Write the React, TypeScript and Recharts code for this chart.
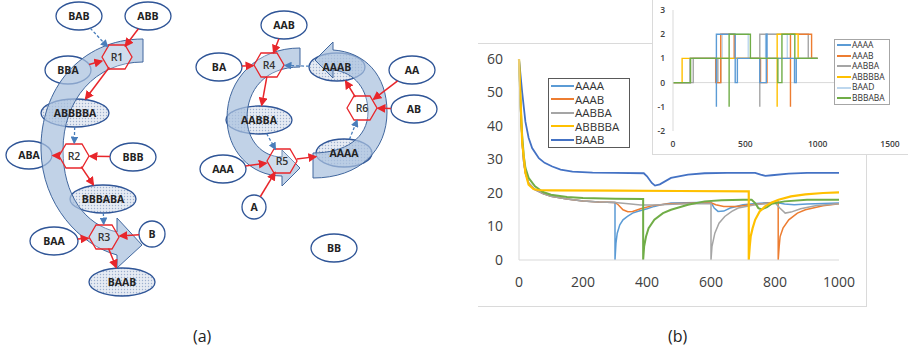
import React from "react";
import {
  LineChart,
  Line,
  XAxis,
  YAxis,
  Legend,
  ReferenceLine,
} from "recharts";

// ---- main chart (b): concentration vs time ----
const mainXTicks = [0, 200, 400, 600, 800, 1000];
const mainYTicks = [0, 10, 20, 30, 40, 50, 60];

const aaaaPts: [number, number][] = [
  [0, 60], [5, 45], [10, 35], [15, 29], [20, 26], [30, 23], [50, 21], [75, 19.8], [100, 19],
  [150, 18.2], [200, 17.6], [250, 17.3], [300, 17.2], [300, 0], [303, 5], [307, 8], [315, 10.5],
  [325, 12], [339, 13], [355, 14], [370, 14.5], [400, 15.3], [423, 16], [450, 16.6], [475, 17],
  [520, 17.1], [600, 17.2], [610, 15.5], [622, 14.5], [640, 14.6], [660, 15.5], [700, 16.5],
  [740, 16.9], [800, 17.2], [830, 16.7], [860, 16.5], [900, 16.7], [1000, 17],
];
const aaabPts: [number, number][] = [
  [0, 60], [5, 45], [10, 35], [15, 29], [20, 26], [30, 23], [50, 21], [75, 19.8], [100, 19],
  [150, 18.2], [200, 17.6], [250, 17.3], [300, 17.2], [310, 16.5], [325, 15], [340, 14.4],
  [355, 14.5], [380, 15.3], [420, 16.3], [470, 16.8], [600, 17.1], [615, 16.5], [640, 16],
  [680, 16], [720, 16.4], [760, 16.8], [800, 17.2], [810, 17.3], [810, 0], [813, 4], [816, 7],
  [825, 9.5], [843, 12], [870, 14], [895, 15], [950, 16.2], [1000, 16.8],
];
const aabbaPts: [number, number][] = [
  [0, 60], [5, 45], [10, 35], [15, 29], [20, 26], [30, 23], [50, 21], [75, 19.8], [100, 19],
  [150, 18.2], [200, 17.6], [250, 17.3], [300, 17.2], [350, 16.7], [380, 16.4], [420, 16.4],
  [500, 16.7], [600, 16.9], [600, 0], [603, 4], [612, 8], [625, 11], [643, 13], [665, 14.5],
  [685, 15.5], [738, 16.5], [790, 17], [800, 17.1], [815, 15.5], [832, 14], [850, 14.3],
  [880, 15.3], [930, 16.3], [1000, 16.8],
];
const abbbbaPts: [number, number][] = [
  [0, 60], [10, 35], [20, 26], [30, 22.5], [45, 21.2], [60, 20.9], [100, 20.8], [300, 20.7],
  [500, 20.6], [718, 20.5], [718, 0], [721, 4], [724, 7], [730, 9.5], [738, 12], [752, 14.5],
  [769, 16], [790, 17.2], [811, 18], [850, 19], [895, 19.6], [950, 20], [1000, 20.2],
];
const baabPts: [number, number][] = [
  [0, 60], [10, 50], [20, 41.3], [30, 36.5], [41, 33.4], [62, 30.4], [80, 29], [104, 27.9],
  [130, 27], [167, 26.4], [230, 26.1], [300, 26], [390, 25.9], [400, 25], [415, 23], [425, 22.2],
  [440, 22.6], [475, 24.5], [528, 25.5], [580, 25.9], [650, 26], [738, 26], [755, 25.5],
  [770, 25.1], [790, 25.3], [843, 25.8], [900, 26], [1000, 26],
];
const bbbabaPts: [number, number][] = [
  [0, 60], [5, 46], [10, 37], [15, 31], [20, 27.5], [30, 24.5], [50, 22], [75, 20.3], [100, 19.5],
  [150, 18.8], [200, 18.5], [300, 18.3], [388, 18.2], [388, 0], [391, 4], [397, 7], [405, 9.5],
  [423, 12], [450, 14], [475, 15], [528, 16.5], [580, 17.5], [633, 17.8], [700, 18], [727, 18],
  [738, 17], [748, 15.5], [758, 15.1], [775, 15.8], [790, 16.8], [830, 17.5], [900, 18], [1000, 18],
];

// ---- inset: step traces ----
const insetXTicks = [0, 500, 1000, 1500];
const insetYTicks = [-2, -1, 0, 1, 2, 3];

const inAaaa: [number, number][] = [
  [0, 0], [120, 0], [120, 1], [300, 1], [300, -1], [300, 2], [430, 2], [430, 0], [445, 0],
  [445, 1], [600, 1], [600, 0], [645, 0], [645, 2], [650, 2], [650, 1], [840, 1], [840, 0],
  [852, 0], [852, 1], [1000, 1],
];
const inAaab: [number, number][] = [
  [0, 0], [120, 0], [120, 1], [295, 1], [295, 0], [330, 0], [330, 2], [423, 2], [423, 1],
  [605, 1], [605, 0], [650, 0], [650, 1], [812, 1], [812, -1], [812, 2], [958, 2], [958, 1], [1000, 1],
];
const inAabba: [number, number][] = [
  [0, 0], [140, 0], [140, 1], [310, 1], [310, 0], [330, 0], [330, 1], [600, 1], [600, -1],
  [600, 2], [935, 2], [935, 1], [1000, 1],
];
const inAbbbba: [number, number][] = [
  [0, 0], [63, 0], [63, 1], [720, 1], [720, -1], [720, 2], [865, 2], [865, 1], [1000, 1],
];
const inBaad: [number, number][] = [
  [0, 0], [120, 0], [120, 1], [340, 1], [340, 2], [520, 2], [520, 1], [640, 1], [640, 2],
  [790, 2], [790, 1], [1000, 1],
];
const inBbbaba: [number, number][] = [
  [0, 0], [121, 0], [121, 1], [388, 1], [388, -1], [388, 2], [535, 2], [535, 1], [725, 1],
  [725, 0], [753, 0], [753, 2], [842, 2], [842, 1], [1000, 1],
];

// ---- diagram (a) ----
const speciesNames = [
  "BAB", "ABB", "BBA", "ABBBBA", "ABA", "BBB", "BBBABA", "BAA", "B", "BAAB",
  "AAB", "BA", "AAAB", "AA", "AB", "AABBA", "AAAA", "AAA", "A", "BB",
];
const dottedSpecies = ["ABBBBA", "BBBABA", "BAAB", "AAAB", "AABBA", "AAAA"];
const reactionNames = ["R1", "R2", "R3", "R4", "R5", "R6"];
const reactEdges: [string, string][] = [
  ["ABB", "R1"], ["BBA", "R1"], ["R1", "ABBBBA"], ["BBB", "R2"], ["R2", "ABA"], ["R2", "BBBABA"],
  ["BAA", "R3"], ["B", "R3"], ["R3", "BAAB"], ["AAB", "R4"], ["BA", "R4"], ["R4", "AABBA"],
  ["AAA", "R5"], ["A", "R5"], ["R5", "AAAA"], ["AA", "R6"], ["AB", "R6"], ["R6", "AAAB"],
];
const catalystEdges: [string, string][] = [
  ["BAB", "R1"], ["ABBBBA", "R2"], ["BBBABA", "R3"], ["AABBA", "R5"], ["AAAB", "R4"], ["AAAA", "R6"],
];

// layout of the diagram: [cx, cy, rx, ry]
const nodeLayout: Record<string, [number, number, number, number]> = {
  BAB: [79, 16, 23, 14], ABB: [148, 16, 23, 14], BBA: [68, 70, 23, 14],
  ABBBBA: [75, 113, 34, 14], ABA: [29, 155, 23, 14], BBB: [133, 157, 23, 14],
  BBBABA: [103, 199, 33, 14], BAA: [54, 241, 24, 14], B: [152, 234, 13, 13],
  BAAB: [122, 282, 33, 14], AAB: [284, 25, 23, 14], BA: [219, 67, 23, 14],
  AAAB: [337, 67, 28, 14], AA: [412, 70, 23, 14], AB: [414, 109, 23, 14],
  AABBA: [259, 120, 33, 14], AAAA: [344, 153, 28, 14], AAA: [223, 169, 23, 14],
  A: [254, 207, 12, 12], BB: [334, 248, 23, 14],
  R1: [117, 57, 15, 12], R2: [74, 156, 15, 12], R3: [104, 237, 15, 12],
  R4: [269, 65, 15, 12], R5: [282, 161, 15, 12], R6: [362, 108, 15, 12],
};

const COLORS: Record<string, string> = {
  AAAA: "#5B9BD5",
  AAAB: "#ED7D31",
  AABBA: "#A5A5A5",
  ABBBBA: "#FFC000",
  BAAB: "#4472C4",
  BAAD: "#BDD7EE",
  BBBABA: "#70AD47",
};

const toRows = (pts: [number, number][]) => pts.map(([x, y]) => ({ x, y }));

function trimmed(a: string, b: string, gapA: number, gapB: number) {
  const [x1, y1, rx1, ry1] = nodeLayout[a];
  const [x2, y2, rx2, ry2] = nodeLayout[b];
  const dx = x2 - x1;
  const dy = y2 - y1;
  const t1 = 1 / Math.sqrt((dx / rx1) ** 2 + (dy / ry1) ** 2);
  const t2 = 1 / Math.sqrt((dx / rx2) ** 2 + (dy / ry2) ** 2);
  const len = Math.sqrt(dx * dx + dy * dy);
  return {
    x1: x1 + dx * t1 + (dx / len) * gapA,
    y1: y1 + dy * t1 + (dy / len) * gapA,
    x2: x2 - dx * t2 - (dx / len) * gapB,
    y2: y2 - dy * t2 - (dy / len) * gapB,
  };
}

function hexPoints(cx: number, cy: number) {
  return [
    [cx - 15, cy], [cx - 8, cy - 12], [cx + 8, cy - 12],
    [cx + 15, cy], [cx + 8, cy + 12], [cx - 8, cy + 12],
  ].map((p) => p.join(",")).join(" ");
}

const Diagram = () => {
  const font = "'Open Sans', sans-serif";
  return (
    <svg width={460} height={352} style={{ position: "absolute", left: 0, top: 0 }}>
      <defs>
        <pattern id="dots" width="3" height="3" patternUnits="userSpaceOnUse">
          <rect width="3" height="3" fill="#E6EBF3" />
          <circle cx="1.5" cy="1.5" r="0.7" fill="#9DB0CF" />
        </pattern>
        <marker id="redHead" markerWidth="6" markerHeight="6" refX="5" refY="3" orient="auto">
          <path d="M0,0 L6,3 L0,6 z" fill="#E8262B" />
        </marker>
        <marker id="blueHead" markerWidth="6" markerHeight="6" refX="5" refY="3" orient="auto">
          <path d="M0,0 L6,3 L0,6 z" fill="#4A7EBB" />
        </marker>
      </defs>

      {speciesNames.map((n) => {
        const [cx, cy, rx, ry] = nodeLayout[n];
        return (
          <ellipse key={n} cx={cx} cy={cy} rx={rx} ry={ry}
            fill={dottedSpecies.includes(n) ? "url(#dots)" : "#fff"}
            stroke="#2F5597" strokeWidth={1.3} />
        );
      })}

      {/* big cycle arrows */}
      <g fill="#A9C0DE" fillOpacity={0.72} stroke="#41679E" strokeWidth={1}>
        <path d="M143 39 L143 62 C95 62 63 100 63 150 C63 195 85 225 117 232 L117 218 L142 245 L117 268 L117 255 C80 245 42 205 41 150 C40 90 80 39 143 39 Z" />
        <path d="M300 48 L300 67 C265 67 247 90 247 118 C247 140 262 157 282 157 L282 150 L300 168 L282 186 L282 176 C250 176 227 150 227 118 C227 78 258 48 300 48 Z" />
        <path d="M313 153 L313 178 C360 178 387 150 387 112 C387 75 365 52 333 50 L333 42 L315 60 L333 78 L333 70 C355 72 368 90 368 112 C368 138 345 153 313 153 Z" />
      </g>

      {reactionNames.map((r) => {
        const [cx, cy] = nodeLayout[r];
        return (
          <g key={r}>
            <polygon points={hexPoints(cx, cy)} fill="#fff" fillOpacity={0.25} stroke="#E8262B" strokeWidth={1.3} />
            <text x={cx} y={cy + 4} textAnchor="middle" fontSize={10.5} fontFamily={font} fontWeight={600} fill="#333">{r}</text>
          </g>
        );
      })}

      {catalystEdges.map(([a, b]) => {
        const c = trimmed(a, b, 0, 1);
        return <line key={a + b} {...c} stroke="#4A7EBB" strokeWidth={1.3} strokeDasharray="3 2" markerEnd="url(#blueHead)" />;
      })}
      {reactEdges.map(([a, b]) => {
        const c = trimmed(a, b, 0, 1);
        return <line key={a + b} {...c} stroke="#E8262B" strokeWidth={1.5} markerEnd="url(#redHead)" />;
      })}

      {speciesNames.map((n) => {
        const [cx, cy] = nodeLayout[n];
        return (
          <text key={n} x={cx} y={cy + 4} textAnchor="middle" fontSize={10.5} fontFamily={font} fontWeight={700} fill="#222">{n}</text>
        );
      })}
    </svg>
  );
};

const makeLegend = (opts: { fontSize: number; rowH: number; lineW: number; border: string; pad: number }) =>
  (props: any) => {
    const items = (props.payload || []).filter((p: any) => p.type !== "none");
    return (
      <div style={{ border: `1px solid ${opts.border}`, background: "#fff", padding: `${opts.pad}px ${opts.pad + 2}px`, fontFamily: "'Open Sans', sans-serif" }}>
        {items.map((p: any) => (
          <div key={p.value} style={{ display: "flex", alignItems: "center", height: opts.rowH, fontSize: opts.fontSize, color: "#333", lineHeight: 1 }}>
            <span style={{ display: "inline-block", width: opts.lineW, height: 2, background: p.color, marginRight: 1 }} />
            {p.value}
          </div>
        ))}
      </div>
    );
  };

const mainLegend = makeLegend({ fontSize: 11.5, rowH: 13.5, lineW: 23, border: "#595959", pad: 0 });
const insetLegend = makeLegend({ fontSize: 8.5, rowH: 10.6, lineW: 14, border: "#A6A6A6", pad: 0 });

const tickStyle = { fontSize: 14, fill: "#404040", fontFamily: "'Open Sans', sans-serif" };
const insetTick = { fontSize: 8.5, fill: "#404040", fontFamily: "'Open Sans', sans-serif", fontWeight: 600 };

export default function App() {
  return (
    <div style={{ position: "absolute", left: 0, top: 0, width: 908, height: 352, background: "#fff", overflow: "hidden" }}>
      <Diagram />
      <div style={{ position: "absolute", left: 193, top: 325, fontSize: 16, fontFamily: "'Open Sans', sans-serif", color: "#222" }}>(a)</div>
      <div style={{ position: "absolute", left: 668, top: 325, fontSize: 16, fontFamily: "'Open Sans', sans-serif", color: "#222" }}>(b)</div>

      {/* frame of panel (b) */}
      <div style={{ position: "absolute", left: 478, top: 43, width: 388, height: 262, borderTop: "1px solid #DADADA", borderRight: "1px solid #DADADA", borderBottom: "1px solid #DADADA" }} />

      <div style={{ position: "absolute", left: 470, top: 40 }}>
        <LineChart width={400} height={260} margin={{ top: 19, right: 31, bottom: 0, left: 0 }}>
          <XAxis type="number" dataKey="x" domain={[0, 1000]} ticks={mainXTicks} height={40}
            axisLine={{ stroke: "#D9D9D9" }} tickLine={false} tickSize={0} tickMargin={17} tick={tickStyle} />
          <YAxis type="number" dataKey="y" domain={[0, 60]} ticks={mainYTicks} width={49}
            axisLine={{ stroke: "#D9D9D9" }} tickLine={false} tickSize={0} tickMargin={16} tick={tickStyle} />
          <Legend layout="vertical" align="center" verticalAlign="middle" content={mainLegend}
            wrapperStyle={{ left: 78, top: 38, width: 82 }} />
          <Line data={toRows(baabPts)} dataKey="y" name="BAAB" stroke={COLORS.BAAB} strokeWidth={1.8} dot={false} isAnimationActive={false} />
          <Line data={toRows(aaaaPts)} dataKey="y" name="AAAA" stroke={COLORS.AAAA} strokeWidth={1.5} dot={false} isAnimationActive={false} />
          <Line data={toRows(aaabPts)} dataKey="y" name="AAAB" stroke={COLORS.AAAB} strokeWidth={1.5} dot={false} isAnimationActive={false} />
          <Line data={toRows(aabbaPts)} dataKey="y" name="AABBA" stroke={COLORS.AABBA} strokeWidth={1.5} dot={false} isAnimationActive={false} />
          <Line data={toRows(bbbabaPts)} dataKey="y" name="BBBABA" stroke={COLORS.BBBABA} strokeWidth={2} dot={false} legendType="none" isAnimationActive={false} />
          <Line data={toRows(abbbbaPts)} dataKey="y" name="ABBBBA" stroke={COLORS.ABBBBA} strokeWidth={2.2} dot={false} isAnimationActive={false} />
        </LineChart>
      </div>

      {/* inset */}
      <div style={{ position: "absolute", left: 652, top: -1, width: 260, height: 154, background: "#fff", border: "1px solid #DADADA" }} />
      <div style={{ position: "absolute", left: 652, top: 0 }}>
        <LineChart width={256} height={153} margin={{ top: 10, right: 18, bottom: 0, left: 0 }}>
          <XAxis type="number" dataKey="x" domain={[0, 1500]} ticks={insetXTicks} height={22}
            axisLine={false} tickLine={false} tickSize={0} tickMargin={10} tick={insetTick} />
          <YAxis type="number" dataKey="y" domain={[-2, 3]} ticks={insetYTicks} width={21}
            axisLine={{ stroke: "#D9D9D9" }} tickLine={false} tickSize={0} tickMargin={8} tick={insetTick} />
          <ReferenceLine y={0} stroke="#D9D9D9" />
          <Legend layout="vertical" align="center" verticalAlign="middle" content={insetLegend}
            wrapperStyle={{ left: 182, top: 39, width: 56 }} />
          <Line data={toRows(inBaad)} dataKey="y" name="BAAD" stroke={COLORS.BAAD} strokeWidth={1.4} dot={false} isAnimationActive={false} />
          <Line data={toRows(inAabba)} dataKey="y" name="AABBA" stroke={COLORS.AABBA} strokeWidth={1.4} dot={false} isAnimationActive={false} />
          <Line data={toRows(inAaab)} dataKey="y" name="AAAB" stroke={COLORS.AAAB} strokeWidth={1.4} dot={false} isAnimationActive={false} />
          <Line data={toRows(inAbbbba)} dataKey="y" name="ABBBBA" stroke={COLORS.ABBBBA} strokeWidth={1.4} dot={false} isAnimationActive={false} />
          <Line data={toRows(inAaaa)} dataKey="y" name="AAAA" stroke={COLORS.AAAA} strokeWidth={1.4} dot={false} isAnimationActive={false} />
          <Line data={toRows(inBbbaba)} dataKey="y" name="BBBABA" stroke={COLORS.BBBABA} strokeWidth={1.4} dot={false} isAnimationActive={false} />
        </LineChart>
      </div>
    </div>
  );
}
